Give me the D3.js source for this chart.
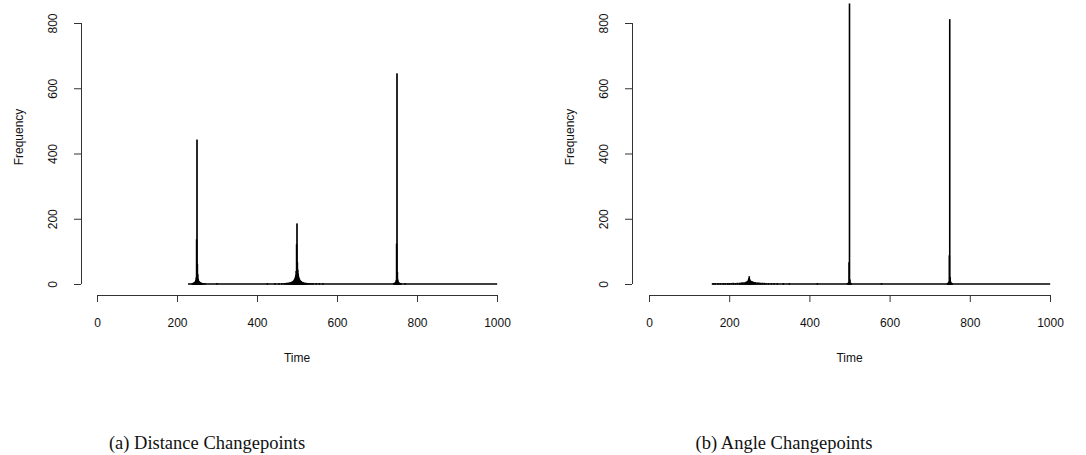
<!DOCTYPE html>
<html>
<head>
<meta charset="utf-8">
<script src="https://cdn.jsdelivr.net/npm/d3@7"></script>
<style>
  html, body { margin: 0; padding: 0; background: #fff; }
  svg { display: block; }
  .tick text, .lab { font-family: "Liberation Sans", Arial, sans-serif; font-size: 12px; fill: #111; }
  .cap { font-family: "Liberation Serif", "DejaVu Serif", serif; font-size: 18.5px; fill: #111; }
</style>
</head>
<body>
<script>
// Histogram of changepoint times (one bin per time step); bins not listed are zero.
const distRange = [228, 1000];
const distTimes = [238, 240, 241, 242, 243, 244, 245, 246, 247, 248, 249, 250, 251, 252, 253, 254, 255, 256, 257, 258, 259, 260, 261, 262, 264, 266, 270,
  300, 426, 445, 455, 462, 468, 471, 474, 477, 479, 481, 483, 485, 486, 487, 488, 489, 490, 491, 492, 493, 494, 495, 496, 497, 498, 499, 500,
  501, 502, 503, 504, 505, 506, 507, 508, 509, 510, 511, 512, 513, 514, 515, 516, 518, 520, 522, 524, 527, 530, 535, 540, 548, 556, 565,
  742, 744, 745, 746, 747, 748, 749, 750, 751, 752, 753, 754, 755, 756, 758, 760, 770];
const distCounts = [1, 1, 2, 2, 3, 4, 5, 7, 10, 18, 135, 441, 60, 28, 14, 9, 7, 5, 4, 3, 3, 2, 2, 1, 1, 1, 1,
  1, 1, 1, 1, 1, 1, 1, 2, 2, 2, 3, 3, 4, 4, 5, 5, 6, 7, 8, 9, 11, 13, 16, 20, 26, 38, 120, 184,
  65, 42, 30, 22, 17, 14, 11, 9, 8, 7, 6, 5, 4, 4, 3, 3, 2, 2, 2, 1, 1, 1, 1, 1, 1, 1, 1,
  1, 2, 2, 3, 5, 10, 122, 644, 35, 12, 6, 4, 2, 2, 1, 1, 1];

const angleRange = [157, 1000];
const angleTimes = [160, 165, 172, 178, 185, 190, 196, 200, 205, 210, 215, 220, 225, 228, 231, 234, 237, 240, 242, 244, 246, 248, 249, 250,
  251, 252, 254, 256, 258, 260, 263, 266, 270, 274, 278, 282, 287, 292, 298, 305, 312, 320, 335, 350, 420,
  495, 497, 498, 499, 500, 501, 502, 503, 504, 580,
  744, 746, 747, 748, 749, 750, 751, 752, 753, 754, 756];
const angleCounts = [1, 1, 1, 1, 1, 1, 1, 1, 1, 2, 1, 2, 2, 2, 3, 3, 3, 4, 5, 6, 8, 12, 16, 22,
  14, 10, 8, 7, 6, 5, 4, 4, 3, 3, 2, 2, 2, 1, 1, 1, 1, 1, 1, 1, 1,
  1, 2, 4, 65, 858, 12, 3, 1, 1, 1,
  1, 2, 3, 6, 86, 810, 20, 6, 3, 2, 1];

const xTicks = [0, 200, 400, 600, 800, 1000];
const yTicks = [0, 200, 400, 600, 800];
const captions = ["(a) Distance Changepoints", "(b) Angle Changepoints"];

const W = 1086, H = 455;
const svg = d3.select("body").append("svg").attr("width", W).attr("height", H);

const panels = [
  { times: distTimes, counts: distCounts, range: distRange, x0: 97, x1: 497, yAxisX: 81, cap: captions[0], capX: 207 },
  { times: angleTimes, counts: angleCounts, range: angleRange, x0: 649, x1: 1050, yAxisX: 632, cap: captions[1], capX: 784 }
];

const yTop = 23, yBase = 284, xAxisY = 295;

panels.forEach(p => {
  const g = svg.append("g");
  const x = d3.scaleLinear().domain([0, 1000]).range([p.x0, p.x1]);
  const y = d3.scaleLinear().domain([0, 800]).range([yBase, yTop]);

  // zero-height bins form a baseline across the data range
  g.append("line")
    .attr("x1", x(p.range[0] - 0.5)).attr("x2", x(p.range[1] + 0.5))
    .attr("y1", y(0)).attr("y2", y(0))
    .attr("stroke", "#000").attr("stroke-width", 1.6);

  const bins = p.times.map((t, i) => ({ t, c: p.counts[i] }));
  g.selectAll("rect.bar").data(bins).enter().append("rect")
    .attr("class", "bar")
    .attr("x", d => x(d.t - 0.5))
    .attr("width", d => x(d.t + 0.5) - x(d.t - 0.5))
    .attr("y", d => y(d.c))
    .attr("height", d => y(0) - y(d.c))
    .attr("fill", "#000").attr("stroke", "#000").attr("stroke-width", 1.2);

  // x axis
  const xa = g.append("g").attr("transform", `translate(0,${xAxisY})`)
    .call(d3.axisBottom(x).tickValues(xTicks).tickSize(7).tickPadding(14).tickFormat(d3.format("d")));
  xa.select(".domain").attr("stroke", "#333").attr("d", `M${x(0)},0.5H${x(1000)}`);
  xa.selectAll(".tick line").attr("stroke", "#333");
  xa.selectAll(".tick text").attr("dy", "0.32em").attr("y", 28);

  // y axis with labels parallel to the axis
  const ya = g.append("g").attr("transform", `translate(${p.yAxisX},0)`)
    .call(d3.axisLeft(y).tickValues(yTicks).tickSize(7).tickFormat(d3.format("d")));
  ya.select(".domain").attr("stroke", "#333").attr("d", `M0.5,${y(0)}V${y(800)}`);
  ya.selectAll(".tick line").attr("stroke", "#333");
  ya.selectAll(".tick text")
    .attr("x", 0).attr("dy", 0)
    .attr("text-anchor", "middle")
    .attr("transform", "translate(-28,0) rotate(-90)")
    .attr("dominant-baseline", "central");

  g.append("text").attr("class", "lab")
    .attr("x", (p.x0 + p.x1) / 2).attr("y", 362)
    .attr("text-anchor", "middle").text("Time");

  g.append("text").attr("class", "lab")
    .attr("transform", `translate(${p.yAxisX - 62},${137}) rotate(-90)`)
    .attr("text-anchor", "middle").attr("dominant-baseline", "central")
    .text("Frequency");

  svg.append("text").attr("class", "cap")
    .attr("x", p.capX).attr("y", 449)
    .attr("text-anchor", "middle").text(p.cap);
});
</script>
</body>
</html>
